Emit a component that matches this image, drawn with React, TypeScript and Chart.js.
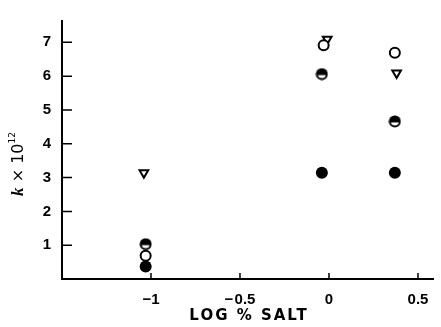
import React, { useEffect, useRef } from "react";
import { Chart, registerables } from "chart.js";

Chart.register(...registerables);

const xTickValues = [-1, -0.5, 0, 0.5];
const xTickLabels = ["\u22121", "\u2212\u200a0.5", "0", "0.5"];
const yTickValues = [1, 2, 3, 4, 5, 6, 7];
const xTitle = "LOG % SALT";

const filledX = [-1.03, -0.04, 0.37];
const filledY = [0.37, 3.14, 3.14];
const openX = [-1.03, -0.03, 0.37];
const openY = [0.69, 6.91, 6.69];
const halfX = [-1.03, -0.04, 0.37];
const halfY = [1.03, 6.06, 4.66];
const triX = [-1.04, -0.01, 0.38];
const triY = [3.14, 7.09, 6.09];

const pts = (xs: number[], ys: number[]) => xs.map((x, i) => ({ x, y: ys[i] }));

function makeHalf(): HTMLCanvasElement {
  const c = document.createElement("canvas");
  c.width = 13;
  c.height = 13;
  const g = c.getContext("2d")!;
  g.fillStyle = "#000";
  g.beginPath();
  g.arc(6.5, 6.5, 6, 0, Math.PI * 2);
  g.fill();
  g.save();
  g.beginPath();
  g.arc(6.5, 6.5, 4, 0, Math.PI * 2);
  g.clip();
  g.fillStyle = "#fff";
  g.fillRect(0, 7.5, 13, 6);
  g.restore();
  return c;
}

const axesPlugin = {
  id: "axesPlugin",
  afterDraw(chart: any) {
    const { ctx, chartArea } = chart;
    const xs = chart.scales.x;
    const ys = chart.scales.y;
    ctx.save();
    ctx.strokeStyle = "#000";
    ctx.lineWidth = 2;
    ctx.beginPath();
    ctx.moveTo(chartArea.left, chartArea.top);
    ctx.lineTo(chartArea.left, chartArea.bottom);
    ctx.lineTo(chartArea.right, chartArea.bottom);
    ctx.stroke();
    ctx.lineWidth = 1.5;
    ctx.beginPath();
    yTickValues.forEach((v) => {
      const p = ys.getPixelForValue(v);
      ctx.moveTo(chartArea.left, p);
      ctx.lineTo(chartArea.left + 10, p);
    });
    xTickValues.forEach((v) => {
      const p = xs.getPixelForValue(v);
      ctx.moveTo(p, chartArea.bottom);
      ctx.lineTo(p, chartArea.bottom - 6);
    });
    ctx.stroke();

    // x title
    ctx.fillStyle = "#000";
    ctx.font = "bold 15px 'DejaVu Sans'";
    ctx.textAlign = "center";
    ctx.textBaseline = "middle";
    (ctx as any).letterSpacing = "2px";
    ctx.fillText(xTitle, (chartArea.left + chartArea.right) / 2 + 1, 316);
    (ctx as any).letterSpacing = "0px";

    // y title
    ctx.translate(19, 164);
    ctx.rotate(-Math.PI / 2);
    ctx.textAlign = "left";
    ctx.textBaseline = "middle";
    const parts: [string, string, number][] = [
      ["k", "italic bold 17px 'Liberation Serif'", 0],
      [" \u00d7 10", "16px 'DejaVu Sans'", 0],
      ["12", "9px 'DejaVu Sans'", -6],
    ];
    let total = 0;
    parts.forEach(([t, f]) => {
      ctx.font = f;
      total += ctx.measureText(t).width;
    });
    let x = -total / 2;
    parts.forEach(([t, f, dy]) => {
      ctx.font = f;
      ctx.fillText(t, x, dy);
      x += ctx.measureText(t).width;
    });
    ctx.restore();
  },
};

export default function App() {
  const ref = useRef<HTMLCanvasElement>(null);
  useEffect(() => {
    const half = makeHalf();
    const chart = new Chart(ref.current!, {
      type: "scatter",
      data: {
        datasets: [
          {
            data: pts(filledX, filledY),
            pointStyle: "circle",
            pointRadius: 6,
            backgroundColor: "#000",
            borderColor: "#000",
            borderWidth: 0,
          },
          {
            data: pts(openX, openY),
            pointStyle: "circle",
            pointRadius: 5,
            backgroundColor: "#fff",
            borderColor: "#000",
            borderWidth: 2,
          },
          {
            data: pts(halfX, halfY),
            pointStyle: half as any,
            pointRadius: 6,
          },
          {
            data: pts(triX, triY),
            pointStyle: "triangle",
            rotation: 180,
            pointRadius: 5,
            backgroundColor: "#fff",
            borderColor: "#000",
            borderWidth: 2,
          },
        ],
      },
      options: {
        animation: false,
        responsive: false,
        layout: { padding: { left: 0, top: 11, right: 6, bottom: 0 } },
        plugins: { legend: { display: false }, tooltip: { enabled: false } },
        scales: {
          x: {
            type: "linear",
            min: -1.5,
            max: 0.59,
            afterBuildTicks: (s: any) => {
              s.ticks = xTickValues.map((v) => ({ value: v }));
            },
            afterFit: (s: any) => {
              s.height = 48;
            },
            grid: { display: false, drawTicks: false },
            border: { display: false },
            ticks: {
              padding: 12,
              color: "#000",
              font: { family: "'Liberation Sans', Arial", size: 15, weight: "bold" },
              callback: (v: any) => {
                const i = xTickValues.indexOf(Number(v));
                return i >= 0 ? xTickLabels[i] : "";
              },
              maxRotation: 0,
              autoSkip: false,
            },
            title: { display: false },
          },
          y: {
            type: "linear",
            min: 0,
            max: 7.66,
            afterBuildTicks: (s: any) => {
              s.ticks = yTickValues.map((v) => ({ value: v }));
            },
            afterFit: (s: any) => {
              s.width = 62;
            },
            grid: { display: false, drawTicks: false },
            border: { display: false },
            ticks: {
              padding: 11,
              color: "#000",
              font: { family: "'Liberation Sans', Arial", size: 15, weight: "bold" },
              autoSkip: false,
            },
          },
        },
      },
      plugins: [axesPlugin],
    });
    return () => chart.destroy();
  }, []);
  return (
    <div style={{ position: "fixed", left: 0, top: 0, width: 441, height: 327, background: "#fff" }}>
      <canvas ref={ref} width={441} height={327} style={{ width: 441, height: 327 }} />
    </div>
  );
}
